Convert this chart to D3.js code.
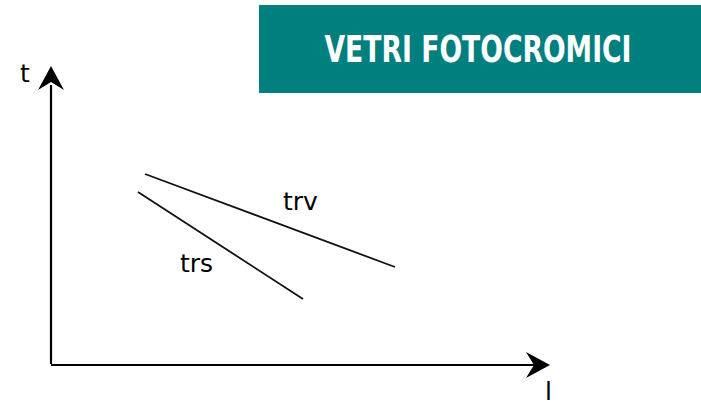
<!DOCTYPE html>
<html>
<head>
<meta charset="utf-8">
<script src="https://cdn.jsdelivr.net/npm/d3@7"></script>
<style>
  body { margin: 0; background: #fff; }
  svg { display: block; }
</style>
</head>
<body>
<div id="chart-area"></div>
<script>
// chart data, in axis units (x: 0..10, y: 0..6)
var seriesNames = ['trv', 'trs'];
var trvPoints = [[1.88, 3.82], [6.88, 1.96]];
var trsPoints = [[1.74, 3.46], [5.04, 1.32]];
var seriesLabels = [[4.64, 3.10], [2.58, 1.86]];
var axisNames = ['t', 'l'];
var titleText = 'VETRI FOTOCROMICI';

var width = 701, height = 403;

var svg = d3.select('#chart-area')
  .append('svg')
  .attr('width', width)
  .attr('height', height);

var x = d3.scaleLinear().domain([0, 10]).range([51, 551]);
var y = d3.scaleLinear().domain([0, 6]).range([365, 65]);

// title box
var box = svg.append('g').attr('class', 'title-box');
box.append('rect')
  .attr('x', 259).attr('y', 5)
  .attr('width', 442).attr('height', 88)
  .attr('fill', '#007f7f');
box.append('text')
  .attr('x', 478).attr('y', 62)
  .attr('text-anchor', 'middle')
  .attr('fill', '#fff')
  .style('font-family', '"Liberation Sans Narrow", "DejaVu Sans Condensed", sans-serif')
  .style('font-weight', 'bold')
  .style('font-size', '37px')
  .attr('textLength', 307)
  .attr('lengthAdjust', 'spacingAndGlyphs')
  .text(titleText);

// axes
var axes = svg.append('g').attr('class', 'axes');
axes.append('path')
  .attr('d', 'M' + x(0) + ',' + y(0.02) + 'V' + y(5.6) + 'M' + x(0) + ',' + y(0) + 'H' + x(9.7))
  .attr('fill', 'none')
  .attr('stroke', '#000')
  .attr('stroke-width', 2.2);

// arrow heads
var tipY = [x(0), y(5.98)];
axes.append('path')
  .attr('d', d3.line()([
    tipY,
    [tipY[0] + 13, tipY[1] + 24],
    [tipY[0], tipY[1] + 16],
    [tipY[0] - 13, tipY[1] + 24]
  ]) + 'Z')
  .attr('fill', '#000');

var tipX = [x(9.98), y(0)];
axes.append('path')
  .attr('d', d3.line()([
    tipX,
    [tipX[0] - 24, tipX[1] - 13],
    [tipX[0] - 16, tipX[1]],
    [tipX[0] - 24, tipX[1] + 13]
  ]) + 'Z')
  .attr('fill', '#000');

var labelFont = '"DejaVu Sans", sans-serif';
axes.append('text')
  .attr('x', 20).attr('y', 82)
  .style('font-family', labelFont)
  .style('font-size', '25px')
  .text(axisNames[0]);
axes.append('text')
  .attr('x', 545).attr('y', 400)
  .style('font-family', labelFont)
  .style('font-size', '25px')
  .text(axisNames[1]);

// the two lines
var line = d3.line().x(d => x(d[0])).y(d => y(d[1]));
svg.selectAll('path.series')
  .data([trvPoints, trsPoints])
  .enter()
  .append('path')
  .attr('class', 'series')
  .attr('d', line)
  .attr('fill', 'none')
  .attr('stroke', '#111')
  .attr('stroke-width', 1.8);

svg.selectAll('text.series-label')
  .data(seriesNames)
  .enter()
  .append('text')
  .attr('class', 'series-label')
  .attr('x', (d, i) => x(seriesLabels[i][0]))
  .attr('y', (d, i) => y(seriesLabels[i][1]))
  .style('font-family', labelFont)
  .style('font-size', '25px')
  .text(d => d);
</script>
</body>
</html>
